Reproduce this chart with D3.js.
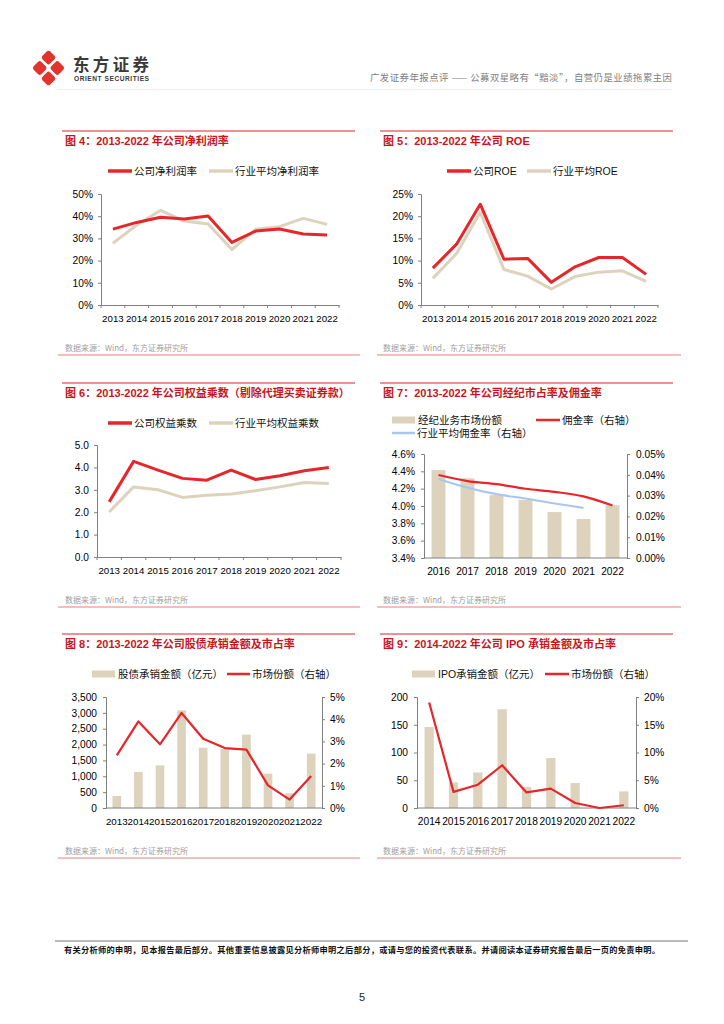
<!DOCTYPE html>
<html><head><meta charset="utf-8">
<script src="https://cdn.jsdelivr.net/npm/d3@7/dist/d3.min.js"></script>
<style>
body{margin:0;background:#fff}
svg{display:block}
text{font-family:"Liberation Sans",Arial,"Noto Sans CJK SC",sans-serif}
</style>
</head><body>
<svg id="page" width="724" height="1024"></svg>
<script>
// ---------- DATA ----------
const years13_22 = ["2013","2014","2015","2016","2017","2018","2019","2020","2021","2022"];
const years16_22 = ["2016","2017","2018","2019","2020","2021","2022"];
const years14_22 = ["2014","2015","2016","2017","2018","2019","2020","2021","2022"];

// Fig 4 net profit margin (%)
const netMarginCompany = [34.2,37.2,39.5,38.7,40.1,28.2,33.3,34.2,32.0,31.5];
const netMarginIndustry = [27.8,36.0,42.6,37.8,36.5,25.0,34.1,35.3,39.0,36.3];
const netMarginTicks = [0,10,20,30,40,50];

// Fig 5 ROE (%)
const roeCompany = [8.3,13.7,22.7,10.3,10.5,5.1,8.6,10.7,10.7,6.9];
const roeIndustry = [6.0,11.6,20.9,8.0,6.5,3.6,6.4,7.4,7.7,5.3];
const roeTicks = [0,5,10,15,20,25];

// Fig 6 equity multiplier
const emCompany = [2.46,4.27,3.88,3.51,3.43,3.88,3.46,3.63,3.85,4.0];
const emIndustry = [2.01,3.13,3.0,2.66,2.76,2.81,2.96,3.13,3.33,3.28];
const emTicks = [0,1,2,3,4,5];

// Fig 7 brokerage share (%) and commission rate (%)
const brokerShare = [4.415,4.32,4.125,4.07,3.93,3.85,4.01];
const commissionCompany = [0.0399,0.0370,0.0355,0.0333,0.0318,0.0296,0.0252];
const commissionIndustry = [0.0380,0.0338,0.0307,0.0286,0.0262,0.0241];
const brokerLeftTicks = [3.4,3.6,3.8,4.0,4.2,4.4,4.6];
const brokerRightTicks = [0,0.01,0.02,0.03,0.04,0.05];

// Fig 8 equity & debt underwriting (亿元) and market share (%)
const underwriteAmount = [378,1135,1345,3080,1902,1860,2312,1083,462,1713];
const underwriteShare = [2.37,3.9,2.87,4.28,3.12,2.7,2.63,1.02,0.38,1.44];
const underwriteLeftTicks = [0,500,1000,1500,2000,2500,3000,3500];
const underwriteRightTicks = [0,1,2,3,4,5];

// Fig 9 IPO underwriting (亿元) and market share (%)
const ipoAmount = [146,46,64,178,38,90,45,0,30];
const ipoShare = [19.0,2.9,4.2,7.7,2.8,3.5,0.9,0.0,0.5];
const ipoLeftTicks = [0,50,100,150,200];
const ipoRightTicks = [0,5,10,15,20];

// ---------- STYLE ----------
const RED = "#e5262a", BEIGE = "#ddd3bd", BLUE = "#a8c6ee", TITLE = "#c8161d";
const AXIS = "#808080";
const svg = d3.select("#page");

// ---------- HEADER ----------
const logo = svg.append("g").attr("transform","translate(48.5,68)");
[[0,-8],[8,0],[0,8],[-8,0]].forEach(([dx,dy])=>{
  logo.append("rect").attr("x",-5.5).attr("y",-5.5).attr("width",11).attr("height",11).attr("rx",2.5)
    .attr("fill","#e0342c").attr("transform",`translate(${dx*1.1},${dy*1.3}) rotate(45)`);
});
svg.append("text").attr("x",73).attr("y",71).attr("font-size",16.5).attr("font-weight","bold")
  .attr("fill","#3a3a3a").attr("textLength",76).style("font-family","Noto Sans CJK SC").text("东方证券");
svg.append("text").attr("x",74).attr("y",81).attr("font-size",6.6).attr("font-weight","bold")
  .attr("fill","#3a3a3a").attr("textLength",75).text("ORIENT SECURITIES");
svg.append("text").attr("x",672).attr("y",81).attr("text-anchor","end").attr("font-size",9.4)
  .attr("fill","#808080").attr("textLength",302).style("font-family","Noto Sans CJK SC")
  .text("广发证券年报点评 —— 公募双星略有“黯淡”，自营仍是业绩拖累主因");
svg.append("line").attr("x1",57).attr("x2",672).attr("y1",89.5).attr("y2",89.5).attr("stroke","#eeeeee");

// ---------- FOOTER ----------
svg.append("line").attr("x1",55).attr("x2",688).attr("y1",941).attr("y2",941).attr("stroke","#555").attr("stroke-width",0.8);
svg.append("text").attr("x",64).attr("y",953).attr("font-size",8.2).attr("fill","#111").attr("font-weight","bold")
  .attr("textLength",596).style("font-family","Noto Sans CJK SC")
  .text("有关分析师的申明，见本报告最后部分。其他重要信息披露见分析师申明之后部分，或请与您的投资代表联系。并请阅读本证券研究报告最后一页的免责申明。");
svg.append("text").attr("x",362).attr("y",1001).attr("font-size",11).attr("text-anchor","middle").attr("fill","#222").text("5");

// ---------- PANEL FRAME ----------
function frame(left, top, title){
  const r = left ? [62,355] : [380,673];
  const b = left ? [58,360] : [377,681];
  svg.append("line").attr("x1",r[0]).attr("x2",r[1]).attr("y1",top).attr("y2",top).attr("stroke","#d9242a").attr("stroke-width",1);
  svg.append("line").attr("x1",b[0]).attr("x2",b[1]).attr("y1",top+224).attr("y2",top+224).attr("stroke","#ec7c7c").attr("stroke-width",1.2);
  svg.append("text").attr("x",r[0]+3).attr("y",top+14).attr("font-size",11).attr("font-weight","bold")
    .attr("fill",TITLE).text(title);
  svg.append("text").attr("x",r[0]+3).attr("y",top+220).attr("font-size",8).attr("fill","#a0a0a0")
    .style("font-family","Noto Sans CJK SC").text("数据来源：Wind，东方证券研究所");
}

function legendLine(x,y,color,label,w=24,sw=3.5){
  svg.append("line").attr("x1",x).attr("x2",x+w).attr("y1",y).attr("y2",y).attr("stroke",color).attr("stroke-width",sw);
  svg.append("text").attr("x",x+w+2).attr("y",y+4).attr("font-size",10.5).attr("fill","#111").text(label);
}
function legendBar(x,y,color,label){
  svg.append("rect").attr("x",x).attr("y",y-3.5).attr("width",23).attr("height",7).attr("fill",color);
  svg.append("text").attr("x",x+26).attr("y",y+4).attr("font-size",10.5).attr("fill","#111").text(label);
}

function styleAxis(g, fs=10){
  g.selectAll("path").attr("stroke",AXIS);
  g.selectAll("line").attr("stroke",AXIS);
  g.selectAll("text").attr("font-size",fs).attr("fill","#000").style("font-family","Liberation Sans, Arial, sans-serif");
}

function xAxis(x, y0, labelY){
  const g = svg.append("g").attr("transform",`translate(0,${y0})`)
    .call(d3.axisBottom(x).tickSize(0).tickPadding(labelY));
  styleAxis(g, 9.7);
  const step = x.step();
  x.domain().forEach(d=>{
    const bx = x(d) - (step - x.bandwidth())/2;
    g.append("line").attr("x1",bx).attr("x2",bx).attr("y1",0).attr("y2",3).attr("stroke",AXIS);
  });
  g.append("line").attr("x1",x.range()[1]).attr("x2",x.range()[1]).attr("y1",0).attr("y2",3).attr("stroke",AXIS);
  return g;
}

// ---------- LINE CHART ----------
function lineChart(o){
  const x = d3.scaleBand().domain(o.cats).range([o.x0,o.x1]).padding(0);
  const y = d3.scaleLinear().domain(o.domain).range([o.yB,o.yT]);
  const gy = svg.append("g").attr("transform",`translate(${o.x0},0)`)
    .call(d3.axisLeft(y).tickValues(o.ticks).tickSize(3).tickPadding(5).tickFormat(o.fmt));
  styleAxis(gy, 10.2);
  xAxis(x,o.yB,10);
  const line = d3.line().x((d,i)=>x(o.cats[i])+x.bandwidth()/2).y(d=>y(d));
  o.series.forEach(s=>{
    svg.append("path").datum(s.values).attr("d",line).attr("fill","none")
      .attr("stroke",s.color).attr("stroke-width",3).attr("stroke-linejoin","round");
  });
}

// Fig 4
frame(true,131,"图 4：2013-2022 年公司净利润率");
legendLine(108,171,RED,"公司净利润率");
legendLine(209,171,BEIGE,"行业平均净利润率");
lineChart({cats:years13_22,x0:101,x1:339,yT:194,yB:305,domain:[0,50],ticks:netMarginTicks,
  fmt:d=>d+"%",series:[{values:netMarginIndustry,color:BEIGE},{values:netMarginCompany,color:RED}]});

// Fig 5
frame(false,131,"图 5：2013-2022 年公司 ROE");
legendLine(447,171,RED,"公司ROE");
legendLine(527,171,BEIGE,"行业平均ROE");
lineChart({cats:years13_22,x0:421,x1:658,yT:194,yB:305,domain:[0,25],ticks:roeTicks,
  fmt:d=>d+"%",series:[{values:roeIndustry,color:BEIGE},{values:roeCompany,color:RED}]});

// Fig 6
frame(true,383,"图 6：2013-2022 年公司权益乘数（剔除代理买卖证券款）");
legendLine(108,423,RED,"公司权益乘数");
legendLine(209,423,BEIGE,"行业平均权益乘数");
lineChart({cats:years13_22,x0:97,x1:341,yT:445,yB:557,domain:[0,5],ticks:emTicks,
  fmt:d3.format(".1f"),series:[{values:emIndustry,color:BEIGE},{values:emCompany,color:RED}]});

// ---------- COMBO CHART ----------
function comboChart(o){
  const x = d3.scaleBand().domain(o.cats).range([o.x0,o.x1]).padding(0);
  const yL = d3.scaleLinear().domain(o.lDomain).range([o.yB,o.yT]);
  const yR = d3.scaleLinear().domain(o.rDomain).range([o.yB,o.yT]);
  const bw = x.bandwidth()*o.barFrac;
  svg.append("g").selectAll("rect").data(o.bars).join("rect")
    .attr("x",(d,i)=>x(o.cats[i])+(x.bandwidth()-bw)/2).attr("width",bw)
    .attr("y",d=>yL(d)).attr("height",d=>yL(o.lDomain[0])-yL(d)).attr("fill",BEIGE);
  const gl = svg.append("g").attr("transform",`translate(${o.x0},0)`)
    .call(d3.axisLeft(yL).tickValues(o.lTicks).tickSize(3).tickPadding(o.lPad||5).tickFormat(o.lFmt));
  styleAxis(gl, 10.2);
  const gr = svg.append("g").attr("transform",`translate(${o.x1},0)`)
    .call(d3.axisRight(yR).tickValues(o.rTicks).tickSize(3).tickPadding(o.rPad||5).tickFormat(o.rFmt));
  styleAxis(gr, 10.2);
  const gx = svg.append("g").attr("transform",`translate(0,${o.yB})`)
    .call(d3.axisBottom(x).tickSize(0).tickPadding(10));
  styleAxis(gx, o.xfs || 10.2);
  gx.select("path").remove();
  gx.append("line").attr("x1",o.x0).attr("x2",o.x1).attr("y1",0).attr("y2",0).attr("stroke",AXIS);
  o.lines.forEach(s=>{
    const line = d3.line().x((d,i)=>x(o.cats[i])+x.bandwidth()/2).y(d=>yR(d));
    if(s.curve) line.curve(d3.curveMonotoneX);
    svg.append("path").datum(s.values).attr("d",line).attr("fill","none")
      .attr("stroke",s.color).attr("stroke-width",2.2).attr("stroke-linejoin","round");
  });
}

// Fig 7
frame(false,383,"图 7：2013-2022 年公司经纪市占率及佣金率");
legendBar(392,420,BEIGE,"经纪业务市场份额");
legendLine(536,420,RED,"佣金率（右轴）",24,2.5);
legendLine(392,433,BLUE,"行业平均佣金率（右轴）",23,2.5);
comboChart({cats:years16_22,x0:424,x1:627,yT:454,yB:558,lDomain:[3.4,4.6],rDomain:[0,0.05],
  lTicks:brokerLeftTicks,rTicks:brokerRightTicks,lFmt:d=>d3.format(".1f")(d)+"%",rFmt:d=>d3.format(".2f")(d)+"%",
  bars:brokerShare,barFrac:0.48,lPad:6,rPad:6,
  lines:[{values:commissionIndustry,color:BLUE,curve:true},{values:commissionCompany,color:RED,curve:true}]});

// Fig 8
frame(true,634,"图 8：2013-2022 年公司股债承销金额及市占率");
legendBar(92,674,BEIGE,"股债承销金额（亿元）");
legendLine(227,674,RED,"市场份额（右轴）",23,2.5);
comboChart({cats:years13_22,x0:106,x1:322,yT:697,yB:808,lDomain:[0,3500],rDomain:[0,5],
  lTicks:underwriteLeftTicks,rTicks:underwriteRightTicks,lFmt:d3.format(","),rFmt:d=>d+"%",
  bars:underwriteAmount,barFrac:0.4,lPad:6,rPad:5,xfs:9.8,
  lines:[{values:underwriteShare,color:RED}]});

// Fig 9
frame(false,634,"图 9：2014-2022 年公司 IPO 承销金额及市占率");
legendBar(412,674,BEIGE,"IPO承销金额（亿元）");
legendLine(545,674,RED,"市场份额（右轴）",24,2.5);
comboChart({cats:years14_22,x0:417,x1:636,yT:697,yB:808,lDomain:[0,200],rDomain:[0,20],
  lTicks:ipoLeftTicks,rTicks:ipoRightTicks,lFmt:d=>d,rFmt:d=>d+"%",
  bars:ipoAmount,barFrac:0.38,lPad:6,rPad:5,
  lines:[{values:ipoShare,color:RED}]});
</script>
</body></html>
